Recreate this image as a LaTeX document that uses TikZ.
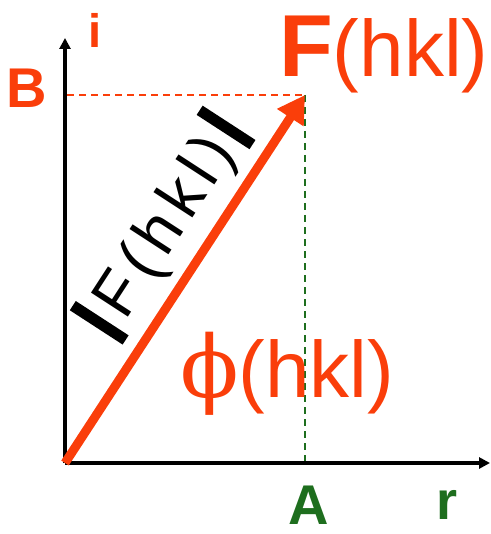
\documentclass[tikz,border=0pt]{standalone}
\usepackage{fontspec}
\setmainfont{Liberation Sans}
\newfontfamily\phifont{DejaVu Serif}
\usetikzlibrary{arrows.meta,positioning,calc}
\definecolor{vecred}{RGB}{250,62,10}
\definecolor{projgreen}{RGB}{30,110,30}
\newcommand{\fs}[1]{\fontsize{#1}{#1}\selectfont}
\newcommand{\modbar}{\rule[-10pt]{11pt}{63pt}}

\begin{document}
\begin{tikzpicture}[
  x=1pt, y=-1pt,
  axis/.style={line width=4pt, -{Triangle[length=11pt,width=11pt]}},
  vec/.style={line width=9pt, vecred, -{Triangle[length=27pt,width=30pt]}},
  proj/.style={line width=1.6pt, dash pattern=on 7pt off 5pt},
  lbl/.style={inner sep=0pt, font=\bfseries}
]
  \useasboundingbox (0,0) rectangle (490,534);

  \coordinate (origin) at (65,463);
  \coordinate (iend) at (65,38);
  \coordinate (rend) at (490,463);
  \coordinate (tip) at (305,95);
  \coordinate (Bfoot) at (67,95);
  \coordinate (Afoot) at (305,461);

  \draw[axis] (origin) -- (iend);
  \draw[axis] (origin) -- (rend);
  \draw[proj, vecred] (Bfoot) -- (tip);
  \draw[proj, projgreen] (tip) -- (Afoot);
  \draw[vec] (origin) -- (tip);

  \node[lbl, vecred, font=\bfseries\fs{47}] (ilbl) at (95,30) {i};
  \node[lbl, vecred, font=\bfseries\fs{56}] (Blbl) at (27,88) {B};
  \node[lbl, projgreen, font=\bfseries\fs{56}] (Albl) at (309,505) {A};
  \node[lbl, projgreen, font=\bfseries\fs{54}] (rlbl) at (447,505) {r};

  \node[inner sep=0pt, anchor=base west, vecred] (Fvec) at (279,77)
    {{\bfseries\fs{88}F}{\fs{80}(hkl)}};
  \node[inner sep=0pt, anchor=base west, vecred] (phase) at (180,397)
    {{\phifont\fs{86}ϕ}{\fs{80}(hkl)}};
  \node[inner sep=0pt, rotate=57] (modF) at (164,226)
    {\modbar\hspace{10pt}{\fs{64}\addfontfeature{LetterSpace=12}F(hkl)}\hspace{10pt}\modbar};
\end{tikzpicture}
\end{document}
